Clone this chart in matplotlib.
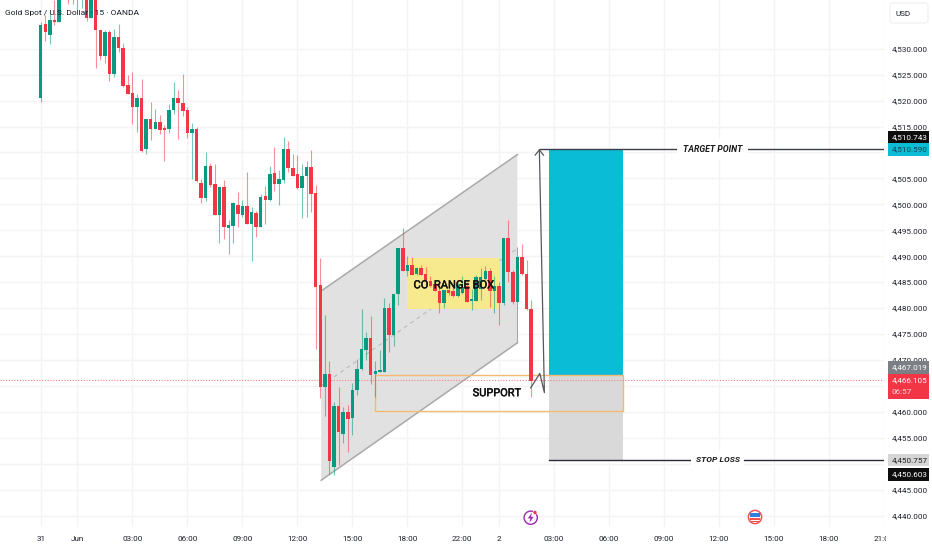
import matplotlib
matplotlib.use('Agg')
import matplotlib.pyplot as plt
import matplotlib.patheffects as pe
from matplotlib.patches import Rectangle, Polygon, Circle, FancyBboxPatch

# values, 15 min bars. the first few highs are above the top of the chart
opens = [4520.6,4534.7,4532.7,4535.6,4535.2,4544.0,4545.0,4544.0,4541.0,4542.0,4544.0,4535.9,4544.0,4533.7,4528.6,4533.2,4525.1,4532.2,4530.2,4523.0,
         4521.4,4518.7,4520.6,4510.6,4516.5,4514.5,4515.8,4514.7,4514.5,4518.1,4520.6,4519.6,4518.1,4513.8,4514.5,4504.2,4501.2,4507.4,4503.9,4497.9,
         4503.3,4495.5,4495.9,4499.9,4497.9,4499.7,4496.2,4498.4,4495.7,4501.6,4500.8,4506.0,4503.9,4504.6,4510.6,4507.1,4505.9,4503.1,4505.4,4507.2,
         4502.1,4484.4,4464.7,4467.2,4449.4,4461.1,4455.8,4460.0,4458.8,4464.2,4468.2,4472.0,4474.2,4467.2,4467.7,4467.7,4480.1,4474.9,4482.7,4491.5,
         4487.2,4488.4,4486.5,4487.7,4486.5,4485.3,4484.6,4483.3,4480.9,4483.4,4483.2,4482.4,4483.0,4484.3,4481.4,4481.4,4483.6,4485.6,4487.1,4483.2,
         4484.3,4481.0,4493.6,4486.9,4481.2,4489.8,4486.5,4479.8]
highs = [4535.2,4536.5,4536.8,4539.4,4541.3,4545.0,4546.0,4546.0,4547.0,4546.0,4546.0,4545.0,4545.0,4533.7,4533.7,4533.6,4533.9,4534.8,4531.2,4524.9,
         4525.5,4521.2,4524.1,4516.5,4519.7,4518.4,4517.2,4515.3,4519.3,4523.6,4522.0,4525.1,4518.7,4515.7,4515.0,4504.9,4510.0,4507.9,4507.7,4503.3,
         4504.7,4497.0,4500.5,4502.4,4500.8,4506.2,4499.4,4498.8,4501.9,4503.5,4507.4,4511.1,4506.6,4512.9,4512.3,4509.7,4509.5,4507.7,4508.4,4510.5,
         4503.7,4489.6,4478.7,4469.7,4461.9,4464.8,4460.9,4461.3,4465.5,4470.1,4479.8,4475.3,4478.5,4469.7,4471.9,4482.0,4481.0,4482.7,4491.5,4495.4,
         4490.0,4489.9,4488.0,4488.3,4488.0,4486.1,4485.4,4484.8,4483.5,4483.6,4484.1,4485.1,4486.1,4485.1,4483.6,4486.4,4487.7,4488.2,4487.7,4486.1,
         4485.1,4493.6,4497.0,4487.3,4491.7,4492.3,4489.3,4481.6]
lows = [4519.8,4531.4,4531.0,4534.6,4535.2,4540.0,4538.6,4538.6,4537.5,4537.8,4535.4,4535.9,4526.2,4527.8,4527.2,4523.7,4524.5,4529.4,4522.6,4521.3,
        4515.5,4513.9,4510.0,4509.8,4512.4,4514.5,4513.5,4508.4,4513.7,4517.5,4512.6,4517.0,4512.7,4504.8,4504.4,4500.3,4500.7,4503.3,4497.9,4492.6,
        4493.4,4490.4,4492.6,4495.6,4497.6,4496.2,4489.1,4493.8,4495.7,4496.2,4500.6,4502.6,4499.9,4504.2,4506.2,4505.5,4503.0,4497.4,4497.6,4498.6,
        4472.2,4462.6,4459.2,4448.0,4447.8,4449.7,4453.9,4452.3,4455.5,4463.2,4468.1,4470.0,4465.4,4462.8,4467.7,4467.7,4471.6,4472.6,4480.5,4487.2,
        4486.2,4486.4,4486.4,4486.4,4484.4,4484.1,4483.2,4479.1,4480.1,4482.5,4482.2,4482.2,4482.8,4481.2,4479.6,4481.4,4481.6,4485.4,4480.3,4479.1,
        4476.7,4480.6,4485.0,4480.8,4473.5,4486.3,4479.6,4462.9]
closes = [4534.6,4533.2,4535.6,4535.2,4540.7,4541.0,4542.0,4541.0,4546.0,4544.0,4535.9,4544.0,4533.6,4528.6,4533.2,4525.1,4532.2,4530.1,4522.9,4521.3,
          4518.7,4520.6,4510.3,4516.5,4514.5,4515.8,4514.3,4514.4,4518.1,4520.6,4519.5,4518.0,4513.8,4514.5,4504.5,4501.2,4507.4,4503.7,4497.9,4503.3,
          4495.6,4496.0,4500.2,4498.1,4499.7,4496.2,4498.5,4495.7,4501.4,4500.8,4505.9,4503.9,4504.8,4510.6,4507.1,4505.5,4503.2,4505.5,4507.2,4501.9,
          4484.1,4464.7,4467.2,4450.5,4461.1,4456.1,4460.0,4458.6,4464.2,4468.2,4472.1,4474.2,4467.1,4467.9,4468.1,4480.1,4474.9,4482.7,4491.5,4487.2,
          4488.4,4486.4,4487.7,4486.4,4485.3,4484.3,4483.2,4480.9,4483.5,4483.0,4482.4,4484.4,4484.1,4481.2,4481.5,4485.9,4485.9,4487.1,4483.2,4484.3,
          4481.0,4493.6,4486.9,4481.2,4489.8,4486.5,4479.8,4465.9]

time_ticks = [0,8,20,32,44,56,68,80,92,100,112,124,136,148,160,172,184]
time_labels = ['31','Jun','03:00','06:00','09:00','12:00','15:00','18:00','22:00','2',
               '03:00','06:00','09:00','12:00','15:00','18:00','21:00']
price_ticks = list(range(4440,4535,5))
covered_ticks = [4450,4465,4510]  # hidden behind the badges

target_price = 4510.59
entry_price = 4467.019
stop_price = 4450.757
last_price = 4466.105

GREEN = '#089981'
RED = '#f23645'
TEXT = '#1c1f2a'
plt.rcParams['font.family'] = ['Roboto','DejaVu Sans']
SCALE_FS = 5.9

fig = plt.figure(figsize=(9.32,5.5),dpi=100,facecolor='white')
ax = fig.add_axes([0,23/550,884/932,527/550])
ax.set_xlim(-8.88,184.0)
ax.set_ylim(4437.79,4539.4)
for s in ax.spines.values():
    s.set_visible(False)
ax.yaxis.tick_right()
ax.set_yticks(price_ticks)
ax.set_yticklabels(['' if p in covered_ticks else '{:,.3f}'.format(p) for p in price_ticks])
ax.set_xticks(time_ticks)
ax.set_xticklabels(time_labels)
ax.tick_params(axis='y',length=0,pad=5.8,labelsize=SCALE_FS,labelcolor=TEXT)
ax.tick_params(axis='x',length=0,pad=6.2,labelsize=SCALE_FS,labelcolor=TEXT)
ax.grid(True,color='#f4f4f5',lw=1)
ax.set_axisbelow(True)

# channel drawing
ax.add_patch(Polygon([(61.2,4483.3),(104,4509.6),(104,4473.3),(61.2,4446.8)],closed=True,fc='#e1e1e1',ec='none',zorder=1))
ax.plot([61.2,104],[4483.3,4509.6],color='#a9a9a9',lw=1.1,zorder=1.2)
ax.plot([61.2,104],[4446.8,4473.3],color='#a9a9a9',lw=1.1,zorder=1.2)
ax.plot([61.2,104],[4465.0,4491.5],color='#b5b5b5',lw=0.7,ls=(0,(4,4)),zorder=1.2)

# range box, long position, support zone
ax.add_patch(Rectangle((79.9,4479.8),20.1,9.8,fc='#f7e98e',ec='none',zorder=1.5))
ax.add_patch(Rectangle((111,entry_price),16,target_price-entry_price,fc='#0bbcd6',ec='none',zorder=1.5))
ax.add_patch(Rectangle((111,stop_price),16,entry_price-stop_price,fc='#d9d9d9',ec='none',zorder=1.5))
ax.add_patch(Rectangle((72.9,4460.2),54.1,entry_price-4460.2,fc='none',ec='#f5b970',lw=1,zorder=1.7))

ax.axhline(last_price,color='#f2838d',lw=0.8,ls=(0,(1,1.5)),zorder=1.8)
ax.plot([109,184],[target_price,target_price],color='#3c3f48',lw=1,zorder=2)
ax.plot([111,184],[stop_price,stop_price],color='#2a2d35',lw=1,zorder=2)

for i in range(len(opens)):
    col = GREEN if closes[i]>=opens[i] else RED
    ax.vlines(i,lows[i],highs[i],color=col,lw=0.8,alpha=0.55,zorder=3)
    ax.bar(i,max(abs(closes[i]-opens[i]),0.3),bottom=min(opens[i],closes[i]),width=0.76,color=col,zorder=3.1)

# zigzag and arrow up to the target
ax.plot([106.9,108.9,109.9,108.8],[4464.6,4467.4,4463.7,4510.5],color='#55585f',lw=0.9,zorder=3.5)
ax.plot([107.9,108.8,109.7],[4509.5,4510.5,4509.5],color='#55585f',lw=0.9,zorder=3.5)

heavy = [pe.withStroke(linewidth=0.35,foreground='#111111')]
ax.text(90.1,4484.4,'CO  RANGE BOX',fontsize=8,color='#111111',ha='center',va='center',zorder=4,path_effects=heavy)
ax.text(99.5,4463.6,'SUPPORT',fontsize=7.9,color='#111111',ha='center',va='center',zorder=4,path_effects=heavy)
ax.text(146.6,target_price,'TARGET POINT',fontsize=6.3,style='italic',weight='bold',color='#1a1a1a',ha='center',va='center',
        zorder=4,bbox=dict(fc='white',ec='none',pad=4.5))
ax.text(147.7,stop_price,'STOP LOSS',fontsize=6.1,style='italic',weight='bold',color='#1a1a1a',ha='center',va='center',
        zorder=4,bbox=dict(fc='white',ec='none',pad=3.5))

# price badges on the right scale
ytr = ax.get_yaxis_transform()
badges = [(4512.9,2.5,'#0d0d0d','4,510.743','white'),
          (target_price,2.5,'#0bbcd6','4,510.590','#17404a'),
          (4468.6,2.5,'#7c7f86','4,467.019','white'),
          (4464.9,4.8,RED,'','white'),
          (stop_price,2.4,'#d6d6d6','4,450.757','#222222'),
          (4448.0,2.5,'#0d0d0d','4,450.603','white')]
for mid,h,fc,txt,tc in badges:
    ax.add_patch(Rectangle((888/884,mid-h/2),41/884,h,transform=ytr,fc=fc,ec='none',clip_on=False,zorder=6))
    if txt:
        ax.text(892/884,mid,txt,transform=ytr,fontsize=SCALE_FS,color=tc,va='center',ha='left',zorder=7)
ax.text(892/884,last_price,'4,466.105',transform=ytr,fontsize=SCALE_FS,color='white',va='center',ha='left',zorder=7)
ax.text(892/884,4463.9,'06:57',transform=ytr,fontsize=SCALE_FS,color='#ffd5d9',va='center',ha='left',zorder=7)

ax.text(5/884,0.975,'Gold Spot / U.S. Dollar · 15 · OANDA',transform=ax.transAxes,fontsize=6,color='#131722',
        va='center',ha='left',zorder=8)

# things that sit on the page rather than on the scales
ov = fig.add_axes([0,0,1,1],facecolor='none')
ov.set_xlim(0,932)
ov.set_ylim(550,0)
ov.axis('off')
ov.add_patch(Rectangle((886,527),46,23,fc='white',ec='none'))
ov.add_patch(FancyBboxPatch((890,3),38,20,boxstyle='round,pad=0,rounding_size=3',fc='white',ec='#efefef',lw=0.8))
ov.text(895,13.5,'USD',fontsize=SCALE_FS,color=TEXT,va='center',ha='left')

ov.add_patch(Circle((530.7,517.7),6.6,fc='white',ec='#9c27b0',lw=1))
ov.add_patch(Polygon([(532,512.5),(527.8,518.4),(530.4,518.4),(529.4,522.8),(533.6,516.8),(531,516.8)],closed=True,fc='#9c27b0',ec='none'))
ov.add_patch(Circle((535,512.5),2,fc=RED,ec='white',lw=0.4))

ov.add_patch(Circle((755,517),6.6,fc='white',ec='#ef5350',lw=1.1))
ov.add_patch(Rectangle((750,512.5),10,4.5,fc='#2f7fe0',ec='none'))
ov.add_patch(Rectangle((750,518.4),10,1.3,fc='#ef5350',ec='none'))
ov.add_patch(Rectangle((751,521),8,1.2,fc='#ef5350',ec='none'))

fig.savefig('out.png',dpi=100)
